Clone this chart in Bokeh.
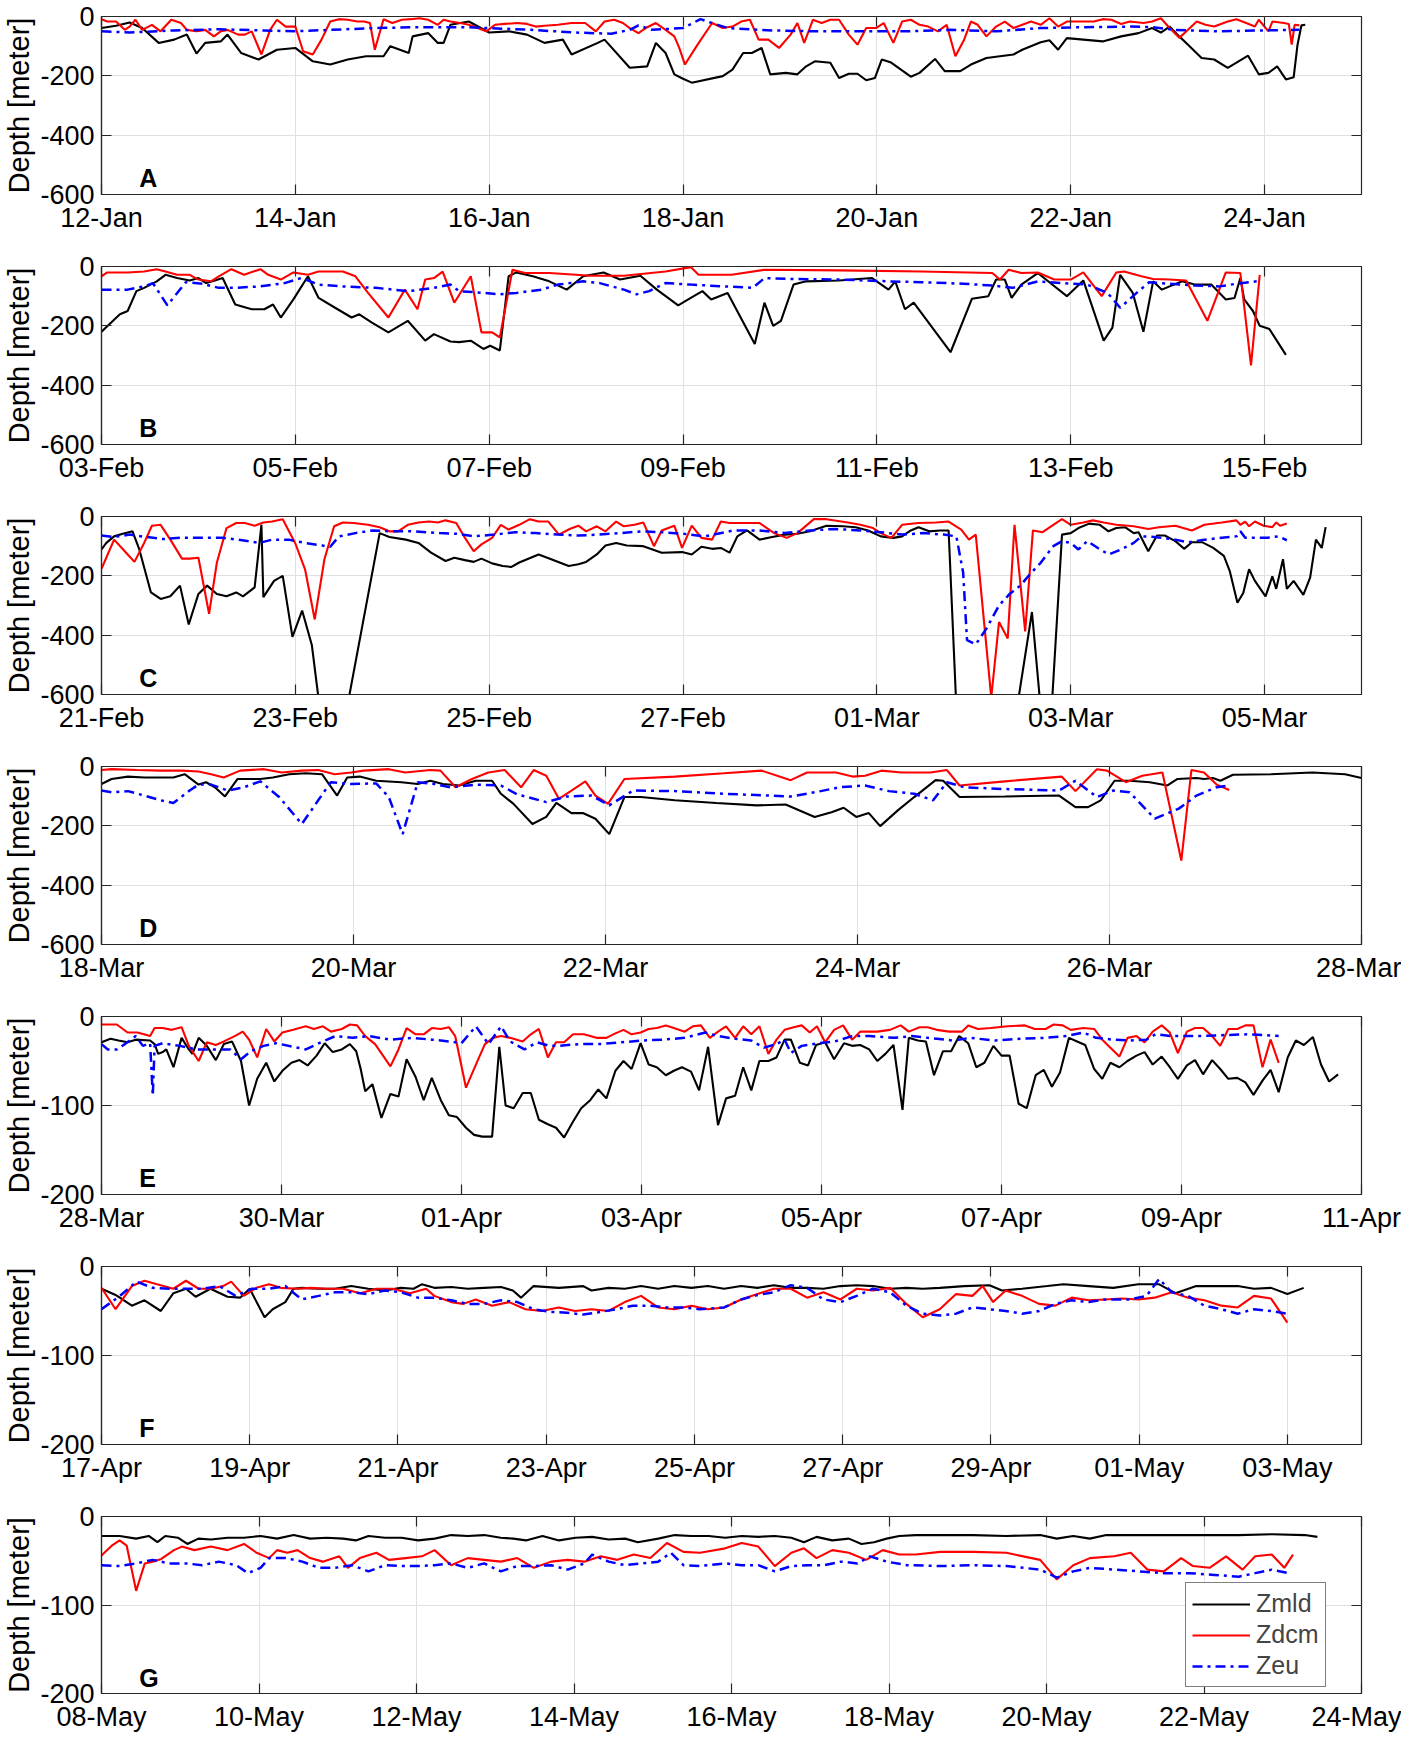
import numpy as np
import pandas as pd
from bokeh.plotting import figure
from bokeh.layouts import column
from bokeh.models import (Range1d, FixedTicker, DatetimeTickFormatter, Label, Legend, LegendItem,
                          DatetimeAxis, LinearAxis)
from bokeh.embed import file_html
from bokeh.resources import INLINE

# ---------------- panel meta ----------------
PANEL_LETTERS = ["A", "B", "C", "D", "E", "F", "G"]
PANEL_START = ["2019-01-12", "2019-02-03", "2019-02-21", "2019-03-18", "2019-03-28", "2019-04-17", "2019-05-08"]
PANEL_END = ["2019-01-25", "2019-02-16", "2019-03-06", "2019-03-28", "2019-04-11", "2019-05-04", "2019-05-24"]
PANEL_YMIN = [-600, -600, -600, -600, -200, -200, -200]
YTICKS_DEEP = [-600, -400, -200, 0]
YTICKS_SHALLOW = [-200, -100, 0]
SERIES_NAMES = ["Zmld", "Zdcm", "Zeu"]

# ---------------- data: (days since panel start, depth m) ----------------
A_ZMLD = [(0.00,-39),(0.15,-31),(0.29,-20),(0.42,-39),(0.59,-89),(0.75,-78),(0.88,-61),(0.98,-125),(1.07,-89),(1.23,-84),(1.30,-61),(1.44,-123),(1.62,-145),(1.81,-112),(2.00,-106),(2.18,-151),(2.36,-162),(2.54,-145),(2.73,-134),(2.91,-134),(2.98,-100),(3.17,-123),(3.21,-67),(3.37,-56),(3.47,-89),(3.53,-89),(3.60,-28),(3.79,-17),(4.00,-54),(4.20,-50),(4.39,-61),(4.57,-89),(4.76,-78),(4.85,-128),(5.12,-89),(5.19,-78),(5.45,-173),(5.63,-168),(5.72,-89),(5.82,-123),(5.91,-195),(6.00,-210),(6.09,-223),(6.41,-201),(6.51,-179),(6.62,-123),(6.71,-123),(6.81,-106),(6.90,-195),(7.06,-190),(7.18,-195),(7.27,-168),(7.36,-151),(7.52,-156),(7.61,-207),(7.71,-193),(7.80,-193),(7.89,-215),(7.98,-207),(8.05,-145),(8.14,-154),(8.35,-203),(8.44,-190),(8.60,-143),(8.70,-184),(8.86,-184),(8.97,-162),(9.13,-140),(9.41,-128),(9.50,-112),(9.69,-87),(9.78,-80),(9.87,-112),(9.96,-73),(10.33,-84),(10.52,-67),(10.70,-56),(10.84,-39),(10.93,-54),(11.02,-34),(11.12,-67),(11.21,-95),(11.35,-140),(11.48,-145),(11.62,-173),(11.83,-132),(11.94,-195),(12.04,-190),(12.13,-168),(12.22,-212),(12.30,-205),(12.34,-95),(12.38,-30),(12.42,-28)]
A_ZDCM = [(0.00,-9),(0.06,-17),(0.15,-17),(0.24,-45),(0.29,-34),(0.35,-11),(0.42,-45),(0.52,-28),(0.61,-50),(0.72,-11),(0.82,-22),(0.88,-45),(0.98,-50),(1.07,-45),(1.16,-67),(1.23,-50),(1.30,-45),(1.41,-61),(1.48,-61),(1.55,-50),(1.65,-128),(1.74,-45),(1.81,-11),(1.90,-34),(2.00,-34),(2.08,-117),(2.18,-128),(2.27,-78),(2.36,-17),(2.45,-9),(2.54,-11),(2.64,-17),(2.71,-17),(2.77,-22),(2.82,-112),(2.91,-9),(3.00,-22),(3.10,-11),(3.19,-9),(3.28,-6),(3.37,-11),(3.47,-28),(3.53,-11),(3.60,-17),(3.70,-22),(3.79,-28),(3.88,-39),(3.97,-50),(4.06,-28),(4.16,-25),(4.29,-22),(4.39,-25),(4.48,-34),(4.57,-31),(4.71,-28),(4.85,-22),(4.99,-22),(5.10,-50),(5.19,-17),(5.29,-11),(5.38,-22),(5.45,-39),(5.54,-56),(5.63,-36),(5.72,-22),(5.82,-45),(5.91,-67),(5.96,-105),(6.02,-162),(6.14,-100),(6.30,-22),(6.41,-39),(6.51,-34),(6.60,-17),(6.69,-11),(6.78,-78),(6.88,-78),(6.99,-106),(7.11,-61),(7.18,-22),(7.25,-89),(7.34,-11),(7.43,-22),(7.52,-11),(7.61,-11),(7.71,-61),(7.80,-95),(7.89,-39),(7.99,-39),(8.07,-22),(8.17,-89),(8.26,-17),(8.35,-11),(8.44,-28),(8.53,-34),(8.63,-50),(8.72,-28),(8.81,-134),(8.90,-78),(8.97,-17),(9.04,-28),(9.13,-67),(9.23,-34),(9.32,-17),(9.41,-39),(9.50,-28),(9.59,-17),(9.69,-28),(9.78,-6),(9.87,-34),(9.96,-17),(10.24,-17),(10.33,-9),(10.42,-11),(10.52,-25),(10.61,-17),(10.75,-22),(10.84,-17),(10.93,-6),(11.02,-39),(11.12,-72),(11.21,-45),(11.30,-17),(11.39,-28),(11.48,-34),(11.62,-17),(11.71,-9),(11.81,-22),(11.90,-34),(11.94,-11),(12.04,-50),(12.08,-17),(12.20,-22),(12.25,-25),(12.28,-95),(12.31,-28),(12.36,-30)]
A_ZEU = [(0.00,-50),(0.29,-54),(0.75,-47),(1.21,-43),(1.67,-47),(2.00,-50),(2.36,-45),(2.82,-39),(3.28,-36),(3.74,-36),(4.00,-39),(4.43,-45),(4.89,-54),(5.26,-58),(5.45,-45),(5.54,-30),(5.68,-45),(6.00,-39),(6.18,-9),(6.30,-22),(6.46,-39),(6.92,-47),(7.38,-50),(7.84,-50),(8.30,-50),(8.76,-45),(9.23,-50),(9.69,-39),(10.15,-36),(10.61,-34),(10.84,-36),(11.07,-45),(11.53,-50),(11.99,-47),(12.36,-45)]

B_ZMLD = [(0.00,-220),(0.10,-189),(0.19,-161),(0.27,-150),(0.36,-83),(0.44,-72),(0.57,-50),(0.66,-28),(0.78,-39),(0.91,-47),(1.00,-39),(1.08,-56),(1.17,-47),(1.25,-39),(1.38,-128),(1.55,-144),(1.68,-144),(1.77,-128),(1.85,-172),(1.98,-111),(2.13,-33),(2.24,-106),(2.41,-139),(2.58,-172),(2.66,-161),(2.79,-189),(2.96,-222),(3.16,-183),(3.34,-250),(3.43,-228),(3.60,-253),(3.69,-255),(3.81,-250),(3.94,-278),(4.01,-267),(4.11,-283),(4.20,-33),(4.28,-20),(4.45,-33),(4.62,-50),(4.80,-78),(4.97,-33),(5.18,-20),(5.35,-44),(5.56,-31),(5.73,-78),(5.95,-131),(6.08,-106),(6.20,-83),(6.29,-111),(6.46,-89),(6.74,-261),(6.84,-122),(6.93,-200),(7.01,-183),(7.14,-61),(7.27,-50),(7.61,-47),(7.95,-39),(8.12,-78),(8.19,-50),(8.29,-144),(8.38,-122),(8.76,-289),(8.98,-109),(9.15,-100),(9.23,-44),(9.32,-44),(9.39,-106),(9.49,-61),(9.66,-22),(9.96,-100),(10.13,-47),(10.34,-250),(10.43,-206),(10.51,-28),(10.64,-89),(10.75,-220),(10.85,-50),(10.94,-78),(11.02,-67),(11.15,-50),(11.28,-61),(11.45,-61),(11.60,-111),(11.69,-106),(11.75,-39),(11.79,-111),(11.88,-150),(11.95,-200),(12.05,-211),(12.22,-298)]
B_ZDCM = [(0.00,-33),(0.06,-20),(0.27,-20),(0.44,-17),(0.57,-9),(0.66,-17),(0.78,-28),(0.91,-28),(1.00,-44),(1.13,-50),(1.21,-33),(1.34,-9),(1.47,-28),(1.64,-9),(1.72,-28),(1.85,-44),(1.98,-20),(2.13,-28),(2.24,-17),(2.49,-17),(2.62,-33),(2.75,-89),(2.96,-172),(3.13,-78),(3.26,-144),(3.34,-44),(3.43,-39),(3.52,-17),(3.64,-122),(3.81,-33),(3.92,-222),(4.03,-222),(4.11,-239),(4.24,-11),(4.37,-22),(4.62,-22),(5.05,-31),(5.39,-31),(5.82,-17),(6.08,-2),(6.16,-28),(6.50,-28),(6.84,-11),(7.61,-13),(8.46,-17),(9.19,-22),(9.27,-44),(9.36,-11),(9.49,-22),(9.66,-20),(9.83,-44),(10.00,-44),(10.13,-20),(10.32,-100),(10.47,-20),(10.55,-17),(10.73,-33),(10.85,-42),(11.02,-44),(11.19,-47),(11.41,-183),(11.60,-20),(11.75,-22),(11.86,-333),(11.95,-28)]
B_ZEU = [(0.00,-78),(0.27,-78),(0.44,-67),(0.53,-56),(0.68,-131),(0.87,-53),(1.04,-58),(1.21,-72),(1.38,-72),(1.64,-67),(1.89,-56),(2.06,-39),(2.24,-61),(2.49,-67),(2.83,-72),(3.17,-83),(3.43,-72),(3.60,-61),(3.69,-83),(3.94,-89),(4.11,-94),(4.28,-89),(4.54,-78),(4.71,-61),(4.97,-50),(5.14,-56),(5.39,-78),(5.52,-94),(5.65,-83),(5.82,-56),(6.08,-61),(6.42,-67),(6.72,-72),(6.84,-39),(7.10,-42),(7.61,-44),(8.12,-50),(8.46,-53),(8.89,-58),(9.19,-64),(9.40,-72),(9.66,-50),(9.91,-56),(10.17,-61),(10.38,-89),(10.51,-139),(10.68,-89),(10.81,-53),(11.02,-58),(11.28,-64),(11.54,-67),(11.71,-58),(11.92,-50)]

C_ZMLD = [(0.00,-111),(0.05,-89),(0.13,-67),(0.22,-58),(0.32,-50),(0.39,-111),(0.51,-256),(0.61,-278),(0.71,-269),(0.81,-233),(0.90,-364),(1.00,-261),(1.09,-233),(1.19,-261),(1.29,-269),(1.39,-256),(1.46,-269),(1.58,-239),(1.65,-28),(1.67,-272),(1.78,-217),(1.87,-200),(1.97,-406),(2.07,-317),(2.17,-433),(2.28,-720),(2.49,-720),(2.87,-56),(2.97,-69),(3.14,-78),(3.27,-89),(3.40,-122),(3.55,-150),(3.64,-139),(3.75,-147),(3.84,-153),(3.92,-142),(4.03,-158),(4.14,-167),(4.23,-170),(4.31,-155),(4.51,-128),(4.64,-144),(4.82,-167),(4.92,-161),(5.00,-153),(5.11,-128),(5.20,-98),(5.31,-89),(5.42,-98),(5.59,-100),(5.78,-122),(5.99,-120),(6.09,-128),(6.19,-102),(6.30,-109),(6.39,-106),(6.48,-122),(6.56,-67),(6.66,-47),(6.79,-78),(6.92,-69),(7.05,-61),(7.18,-58),(7.31,-50),(7.48,-31),(7.65,-33),(7.78,-36),(7.91,-47),(8.04,-67),(8.17,-72),(8.26,-67),(8.35,-47),(8.43,-36),(8.54,-50),(8.65,-47),(8.74,-47),(8.83,-720),(9.41,-720),(9.60,-322),(9.71,-720),(9.79,-720),(9.91,-61),(10.00,-56),(10.08,-39),(10.19,-24),(10.30,-28),(10.39,-50),(10.47,-39),(10.56,-36),(10.65,-56),(10.70,-53),(10.80,-117),(10.89,-64),(10.97,-64),(11.08,-83),(11.17,-109),(11.25,-87),(11.36,-87),(11.47,-106),(11.58,-133),(11.64,-183),(11.72,-291),(11.78,-258),(11.84,-178),(11.90,-217),(12.01,-269),(12.08,-202),(12.12,-244),(12.19,-144),(12.23,-244),(12.30,-217),(12.40,-264),(12.47,-206),(12.53,-78),(12.59,-106),(12.63,-36)]
C_ZDCM = [(0.00,-176),(0.13,-78),(0.24,-117),(0.34,-153),(0.44,-89),(0.52,-31),(0.61,-28),(0.72,-83),(0.83,-142),(0.91,-142),(1.00,-139),(1.11,-328),(1.19,-156),(1.29,-39),(1.39,-22),(1.48,-22),(1.58,-31),(1.67,-20),(1.76,-17),(1.87,-9),(2.00,-91),(2.10,-178),(2.20,-347),(2.30,-144),(2.40,-33),(2.49,-20),(2.60,-22),(2.75,-28),(2.87,-36),(2.97,-50),(3.06,-50),(3.16,-28),(3.27,-20),(3.38,-17),(3.47,-20),(3.55,-13),(3.66,-22),(3.75,-72),(3.84,-117),(3.92,-94),(4.03,-72),(4.12,-28),(4.20,-44),(4.31,-28),(4.42,-9),(4.51,-17),(4.61,-17),(4.72,-61),(4.83,-42),(4.92,-31),(5.00,-50),(5.11,-33),(5.20,-50),(5.31,-17),(5.39,-33),(5.50,-28),(5.59,-20),(5.70,-100),(5.78,-47),(5.91,-31),(5.99,-106),(6.09,-31),(6.19,-72),(6.30,-78),(6.39,-17),(6.48,-22),(6.79,-22),(6.94,-56),(7.07,-72),(7.18,-56),(7.35,-9),(7.48,-9),(7.70,-20),(7.83,-28),(7.96,-39),(8.04,-56),(8.15,-72),(8.26,-28),(8.43,-22),(8.61,-20),(8.74,-17),(8.87,-44),(8.95,-78),(9.02,-61),(9.18,-610),(9.26,-356),(9.35,-411),(9.42,-28),(9.53,-387),(9.61,-47),(9.71,-53),(9.82,-28),(9.91,-9),(10.00,-28),(10.13,-20),(10.23,-13),(10.34,-20),(10.47,-28),(10.65,-33),(10.80,-42),(10.91,-36),(11.08,-31),(11.25,-47),(11.38,-28),(11.56,-20),(11.71,-13),(11.75,-28),(11.80,-17),(11.84,-33),(11.90,-17),(11.99,-31),(12.08,-36),(12.12,-20),(12.16,-31),(12.23,-24)]
C_ZEU = [(0.00,-64),(0.13,-69),(0.29,-61),(0.46,-69),(0.63,-76),(0.81,-72),(1.02,-72),(1.24,-72),(1.41,-78),(1.63,-89),(1.76,-78),(1.93,-78),(2.10,-89),(2.28,-98),(2.36,-102),(2.45,-67),(2.62,-56),(2.80,-47),(2.97,-50),(3.23,-50),(3.49,-56),(3.66,-58),(3.84,-67),(4.05,-61),(4.27,-53),(4.48,-56),(4.70,-61),(4.92,-64),(5.13,-61),(5.35,-56),(5.57,-50),(5.78,-53),(6.00,-58),(6.22,-67),(6.43,-53),(6.52,-47),(6.79,-47),(7.05,-56),(7.31,-47),(7.57,-42),(7.83,-47),(8.04,-53),(8.26,-61),(8.48,-56),(8.69,-61),(8.82,-67),(8.89,-189),(8.93,-417),(9.02,-431),(9.13,-378),(9.26,-300),(9.37,-261),(9.48,-233),(9.58,-194),(9.69,-156),(9.82,-100),(9.91,-83),(10.00,-89),(10.08,-111),(10.17,-83),(10.28,-106),(10.39,-128),(10.52,-111),(10.65,-89),(10.73,-67),(10.86,-69),(11.08,-78),(11.21,-87),(11.38,-78),(11.56,-72),(11.71,-67),(11.75,-50),(11.80,-72),(11.90,-72),(12.03,-72),(12.14,-67),(12.23,-80)]

D_ZMLD = [(0.00,-59),(0.08,-42),(0.21,-34),(0.34,-37),(0.47,-37),(0.57,-37),(0.66,-26),(0.77,-61),(0.83,-53),(0.90,-70),(0.98,-101),(1.08,-42),(1.26,-42),(1.36,-37),(1.49,-26),(1.62,-23),(1.75,-26),(1.87,-98),(1.95,-37),(2.05,-34),(2.18,-48),(2.38,-53),(2.51,-59),(2.61,-48),(2.71,-59),(2.84,-64),(2.97,-48),(3.10,-48),(3.17,-92),(3.27,-126),(3.42,-194),(3.53,-170),(3.61,-123),(3.73,-157),(3.82,-157),(3.92,-176),(4.03,-228),(4.15,-103),(4.28,-103),(4.55,-114),(4.88,-123),(5.20,-131),(5.43,-128),(5.66,-170),(5.80,-153),(5.89,-139),(5.99,-170),(6.09,-157),(6.18,-201),(6.32,-148),(6.45,-103),(6.62,-46),(6.68,-48),(6.81,-103),(7.17,-101),(7.60,-98),(7.73,-137),(7.83,-137),(7.93,-114),(8.04,-48),(8.16,-48),(8.32,-53),(8.46,-64),(8.54,-42),(8.69,-39),(8.75,-42),(8.82,-39),(8.88,-48),(8.98,-28),(9.28,-26),(9.61,-20),(9.87,-26),(10.00,-39)]
D_ZDCM = [(0.00,-12),(0.08,-9),(0.28,-12),(0.47,-14),(0.64,-14),(0.77,-17),(0.87,-26),(0.97,-37),(1.10,-14),(1.29,-9),(1.43,-20),(1.59,-14),(1.72,-12),(1.85,-26),(1.98,-20),(2.08,-14),(2.28,-9),(2.41,-20),(2.61,-12),(2.69,-14),(2.81,-70),(2.94,-42),(3.07,-20),(3.20,-12),(3.33,-70),(3.43,-12),(3.53,-31),(3.63,-109),(3.73,-81),(3.84,-50),(3.92,-98),(4.02,-126),(4.15,-42),(4.55,-34),(4.94,-23),(5.24,-14),(5.47,-46),(5.60,-20),(5.83,-20),(5.96,-34),(6.06,-31),(6.19,-14),(6.35,-20),(6.58,-20),(6.71,-12),(6.81,-64),(7.17,-50),(7.62,-34),(7.73,-83),(7.90,-9),(7.98,-14),(8.13,-53),(8.26,-31),(8.42,-20),(8.57,-317),(8.65,-12),(8.75,-20),(8.85,-61),(8.95,-79)]
D_ZEU = [(0.00,-81),(0.08,-87),(0.21,-83),(0.34,-98),(0.47,-114),(0.57,-123),(0.70,-81),(0.77,-61),(0.87,-61),(1.00,-81),(1.13,-70),(1.26,-50),(1.41,-103),(1.59,-194),(1.72,-114),(1.82,-53),(1.98,-59),(2.18,-57),(2.28,-103),(2.39,-228),(2.51,-53),(2.64,-59),(2.77,-70),(2.97,-61),(3.17,-64),(3.30,-94),(3.53,-120),(3.69,-101),(3.89,-98),(4.03,-131),(4.22,-81),(4.55,-83),(4.94,-92),(5.47,-101),(5.66,-87),(5.86,-70),(6.06,-64),(6.25,-83),(6.45,-92),(6.60,-114),(6.71,-53),(6.85,-70),(7.17,-76),(7.60,-81),(7.73,-48),(7.90,-103),(8.03,-81),(8.16,-87),(8.36,-176),(8.55,-142),(8.69,-98),(8.85,-70),(8.95,-64)]

E_ZMLD = [(0.00,-29),(0.10,-25),(0.19,-27),(0.29,-29),(0.38,-26),(0.54,-27),(0.59,-31),(0.63,-42),(0.68,-40),(0.72,-37),(0.80,-57),(0.89,-24),(0.97,-37),(1.01,-42),(1.08,-24),(1.17,-33),(1.27,-49),(1.36,-31),(1.45,-28),(1.55,-50),(1.64,-100),(1.73,-70),(1.83,-52),(1.92,-73),(2.01,-61),(2.11,-52),(2.20,-49),(2.29,-55),(2.39,-44),(2.48,-30),(2.57,-40),(2.67,-37),(2.76,-31),(2.83,-39),(2.88,-59),(2.93,-84),(3.01,-76),(3.11,-114),(3.21,-87),(3.30,-90),(3.39,-48),(3.49,-68),(3.58,-94),(3.67,-69),(3.77,-94),(3.86,-111),(3.95,-113),(4.05,-125),(4.14,-133),(4.23,-135),(4.34,-135),(4.42,-34),(4.49,-100),(4.58,-103),(4.68,-86),(4.77,-86),(4.86,-116),(4.96,-121),(5.05,-125),(5.14,-136),(5.24,-118),(5.33,-103),(5.43,-94),(5.52,-82),(5.61,-92),(5.71,-61),(5.80,-50),(5.89,-59),(5.99,-30),(6.08,-54),(6.17,-57),(6.27,-66),(6.36,-61),(6.45,-57),(6.55,-62),(6.64,-83),(6.74,-34),(6.85,-122),(6.94,-92),(7.04,-89),(7.13,-57),(7.22,-83),(7.31,-50),(7.41,-50),(7.50,-46),(7.59,-26),(7.66,-26),(7.76,-52),(7.85,-55),(7.94,-32),(8.04,-29),(8.14,-48),(8.25,-30),(8.34,-33),(8.43,-32),(8.53,-37),(8.62,-50),(8.71,-42),(8.80,-32),(8.90,-105),(8.97,-24),(9.07,-27),(9.16,-28),(9.25,-66),(9.35,-39),(9.44,-39),(9.53,-22),(9.63,-30),(9.72,-57),(9.81,-52),(9.91,-33),(10.00,-44),(10.09,-44),(10.19,-98),(10.28,-103),(10.38,-66),(10.47,-60),(10.56,-79),(10.65,-63),(10.75,-24),(10.84,-28),(10.93,-32),(11.03,-59),(11.12,-70),(11.21,-52),(11.31,-57),(11.40,-50),(11.50,-44),(11.59,-40),(11.68,-54),(11.78,-45),(11.87,-57),(11.96,-70),(12.06,-55),(12.15,-49),(12.24,-65),(12.34,-49),(12.43,-59),(12.52,-70),(12.62,-69),(12.71,-74),(12.80,-88),(12.90,-72),(12.99,-60),(13.08,-85),(13.18,-46),(13.27,-27),(13.36,-32),(13.46,-23),(13.55,-54),(13.64,-73),(13.74,-65)]
E_ZDCM = [(0.00,-9),(0.17,-9),(0.29,-18),(0.40,-18),(0.54,-22),(0.59,-13),(0.68,-13),(0.78,-15),(0.89,-12),(0.97,-33),(1.08,-50),(1.17,-29),(1.27,-32),(1.36,-28),(1.48,-22),(1.57,-17),(1.64,-26),(1.73,-46),(1.83,-14),(1.92,-28),(2.01,-18),(2.13,-15),(2.27,-11),(2.36,-14),(2.46,-11),(2.55,-17),(2.67,-14),(2.76,-9),(2.84,-10),(2.93,-22),(3.04,-31),(3.21,-56),(3.30,-37),(3.39,-13),(3.49,-20),(3.58,-20),(3.67,-13),(3.77,-14),(3.86,-12),(3.93,-22),(4.05,-80),(4.16,-54),(4.26,-31),(4.35,-24),(4.44,-22),(4.54,-24),(4.68,-28),(4.77,-20),(4.86,-14),(4.96,-46),(5.05,-29),(5.14,-29),(5.24,-20),(5.36,-20),(5.50,-24),(5.61,-24),(5.71,-19),(5.80,-15),(5.89,-20),(5.99,-18),(6.08,-14),(6.17,-13),(6.27,-10),(6.36,-13),(6.48,-17),(6.57,-11),(6.66,-10),(6.76,-24),(6.85,-17),(6.94,-11),(7.04,-24),(7.13,-11),(7.22,-20),(7.31,-11),(7.41,-42),(7.50,-26),(7.59,-15),(7.69,-12),(7.78,-10),(7.87,-18),(7.95,-11),(8.04,-29),(8.14,-15),(8.24,-10),(8.34,-26),(8.43,-17),(8.62,-17),(8.76,-15),(8.88,-10),(8.97,-17),(9.09,-12),(9.18,-12),(9.28,-15),(9.42,-17),(9.56,-17),(9.63,-10),(9.74,-14),(9.88,-13),(10.07,-11),(10.26,-10),(10.37,-14),(10.49,-14),(10.58,-9),(10.68,-10),(10.77,-15),(10.91,-13),(11.03,-14),(11.12,-26),(11.21,-35),(11.31,-45),(11.40,-24),(11.50,-22),(11.59,-29),(11.68,-17),(11.78,-10),(11.87,-18),(11.96,-41),(12.06,-17),(12.15,-13),(12.24,-13),(12.34,-22),(12.43,-33),(12.52,-14),(12.62,-14),(12.71,-10),(12.80,-10),(12.90,-57),(12.99,-26),(13.08,-52)]
E_ZEU = [(0.00,-31),(0.07,-37),(0.17,-37),(0.26,-31),(0.38,-22),(0.46,-33),(0.54,-30),(0.57,-89),(0.59,-33),(0.68,-30),(0.87,-33),(1.06,-37),(1.24,-37),(1.43,-37),(1.55,-48),(1.66,-39),(1.80,-33),(1.94,-30),(2.13,-34),(2.27,-37),(2.46,-28),(2.60,-22),(2.79,-24),(2.97,-22),(3.21,-26),(3.44,-24),(3.67,-26),(3.86,-28),(4.00,-30),(4.16,-11),(4.30,-31),(4.44,-11),(4.54,-28),(4.70,-37),(4.84,-29),(4.98,-33),(5.07,-33),(5.31,-31),(5.54,-31),(5.78,-29),(6.01,-27),(6.24,-26),(6.48,-24),(6.71,-18),(6.85,-22),(7.04,-25),(7.22,-27),(7.36,-35),(7.50,-31),(7.59,-26),(7.66,-41),(7.78,-33),(7.97,-30),(8.15,-28),(8.34,-22),(8.53,-22),(8.81,-24),(9.00,-22),(9.28,-25),(9.46,-27),(9.65,-24),(9.93,-27),(10.21,-25),(10.49,-24),(10.72,-22),(10.91,-18),(11.05,-24),(11.24,-26),(11.43,-27),(11.61,-26),(11.71,-20),(11.89,-22),(12.17,-22),(12.45,-21),(12.73,-20),(12.92,-21),(13.08,-22)]

F_ZMLD = [(0.00,-25),(0.19,-32),(0.41,-44),(0.58,-38),(0.80,-50),(0.97,-30),(1.14,-25),(1.27,-34),(1.47,-25),(1.70,-34),(1.87,-35),(2.00,-25),(2.20,-57),(2.31,-48),(2.48,-40),(2.59,-25),(2.70,-24),(2.93,-25),(3.15,-25),(3.37,-22),(3.60,-25),(3.82,-27),(4.04,-24),(4.21,-25),(4.32,-20),(4.49,-24),(4.72,-23),(4.94,-25),(5.16,-24),(5.39,-23),(5.55,-27),(5.66,-35),(5.83,-22),(6.17,-24),(6.50,-22),(6.61,-27),(6.84,-24),(7.06,-25),(7.28,-22),(7.51,-25),(7.73,-22),(7.96,-24),(8.18,-22),(8.40,-25),(8.63,-22),(8.85,-24),(9.07,-21),(9.30,-24),(9.52,-24),(9.74,-25),(9.97,-22),(10.19,-21),(10.41,-22),(10.64,-25),(10.86,-24),(11.08,-25),(11.31,-24),(11.64,-22),(11.98,-21),(12.15,-27),(12.42,-25),(12.76,-22),(12.98,-20),(13.32,-22),(13.65,-24),(13.99,-20),(14.27,-20),(14.49,-30),(14.77,-22),(14.99,-22),(15.33,-22),(15.55,-25),(15.78,-24),(16.00,-31),(16.22,-24)]
F_ZDCM = [(0.00,-24),(0.19,-48),(0.41,-22),(0.58,-16),(0.75,-20),(0.97,-25),(1.14,-16),(1.31,-25),(1.47,-25),(1.64,-22),(1.75,-17),(1.92,-33),(2.09,-24),(2.26,-20),(2.42,-24),(2.65,-25),(2.82,-24),(3.04,-25),(3.26,-25),(3.49,-30),(3.71,-25),(3.93,-25),(4.16,-30),(4.38,-25),(4.49,-33),(4.72,-40),(4.88,-42),(5.05,-37),(5.27,-44),(5.50,-40),(5.72,-48),(5.94,-50),(6.17,-46),(6.39,-50),(6.61,-48),(6.84,-50),(7.06,-40),(7.28,-33),(7.51,-46),(7.73,-48),(7.96,-44),(8.18,-48),(8.40,-46),(8.63,-37),(8.85,-31),(9.07,-25),(9.30,-25),(9.52,-35),(9.74,-29),(9.97,-37),(10.19,-25),(10.41,-27),(10.64,-24),(10.86,-42),(11.08,-57),(11.31,-48),(11.53,-31),(11.75,-33),(11.89,-22),(12.03,-40),(12.20,-27),(12.42,-33),(12.65,-42),(12.87,-44),(13.09,-35),(13.32,-38),(13.54,-37),(13.77,-36),(13.99,-37),(14.21,-35),(14.44,-29),(14.66,-35),(14.88,-38),(15.11,-44),(15.33,-46),(15.55,-33),(15.78,-36),(16.00,-63)]
F_ZEU = [(0.00,-48),(0.25,-33),(0.47,-17),(0.69,-24),(0.92,-25),(1.36,-25),(1.59,-22),(1.81,-33),(2.03,-25),(2.26,-25),(2.48,-22),(2.70,-37),(2.93,-33),(3.15,-29),(3.37,-29),(3.60,-31),(3.82,-27),(4.04,-29),(4.27,-35),(4.49,-35),(4.72,-38),(4.94,-42),(5.16,-42),(5.39,-38),(5.61,-40),(5.83,-48),(6.06,-51),(6.28,-52),(6.50,-54),(6.73,-51),(6.95,-48),(7.17,-44),(7.40,-44),(7.62,-46),(7.84,-46),(8.07,-48),(8.40,-46),(8.63,-37),(8.85,-32),(9.07,-29),(9.30,-21),(9.52,-24),(9.74,-37),(9.97,-40),(10.19,-33),(10.41,-25),(10.64,-29),(10.86,-44),(11.08,-53),(11.31,-55),(11.53,-53),(11.75,-46),(11.98,-48),(12.20,-50),(12.42,-53),(12.65,-50),(12.87,-42),(13.09,-38),(13.32,-40),(13.54,-37),(13.88,-37),(14.10,-33),(14.27,-14),(14.44,-29),(14.66,-33),(14.88,-44),(15.11,-48),(15.33,-53),(15.55,-48),(15.78,-50),(16.00,-53)]

G_ZMLD = [(0.00,-22),(0.23,-22),(0.44,-25),(0.60,-22),(0.71,-29),(0.81,-22),(0.97,-24),(1.09,-31),(1.23,-25),(1.39,-26),(1.60,-24),(1.81,-24),(2.02,-22),(2.23,-25),(2.44,-21),(2.65,-25),(2.86,-24),(3.07,-25),(3.23,-27),(3.39,-22),(3.60,-24),(3.81,-24),(4.02,-27),(4.23,-25),(4.44,-21),(4.65,-22),(4.86,-21),(5.07,-24),(5.23,-25),(5.39,-27),(5.60,-22),(5.81,-27),(6.02,-24),(6.23,-23),(6.44,-26),(6.65,-25),(6.81,-29),(7.07,-25),(7.28,-21),(7.49,-22),(7.71,-22),(7.92,-24),(8.13,-22),(8.34,-23),(8.55,-22),(8.76,-24),(8.92,-29),(9.08,-23),(9.28,-27),(9.49,-25),(9.65,-31),(9.81,-29),(9.97,-25),(10.13,-22),(10.34,-21),(11.07,-21),(11.49,-22),(11.92,-21),(12.13,-25),(12.34,-22),(12.55,-25),(12.76,-21),(13.60,-21),(14.44,-21),(14.86,-20),(15.28,-21),(15.44,-23)]
G_ZDCM = [(0.00,-44),(0.13,-33),(0.23,-27),(0.32,-33),(0.44,-84),(0.55,-53),(0.65,-51),(0.76,-48),(0.92,-38),(1.02,-34),(1.18,-38),(1.39,-34),(1.60,-38),(1.81,-31),(1.97,-41),(2.13,-47),(2.23,-38),(2.36,-41),(2.49,-38),(2.65,-47),(2.81,-51),(3.02,-45),(3.13,-58),(3.28,-47),(3.49,-41),(3.65,-49),(3.86,-47),(4.07,-45),(4.23,-38),(4.44,-55),(4.65,-47),(4.86,-49),(5.07,-51),(5.28,-47),(5.49,-58),(5.71,-51),(5.92,-49),(6.13,-51),(6.34,-45),(6.55,-49),(6.76,-43),(6.97,-47),(7.18,-30),(7.39,-40),(7.60,-41),(7.92,-36),(8.13,-30),(8.34,-34),(8.55,-56),(8.76,-41),(8.92,-36),(9.08,-47),(9.28,-38),(9.49,-41),(9.71,-49),(9.92,-38),(10.13,-43),(10.34,-43),(10.65,-40),(11.07,-40),(11.49,-41),(11.92,-49),(12.13,-71),(12.34,-55),(12.55,-47),(12.86,-45),(13.07,-41),(13.28,-60),(13.49,-62),(13.71,-47),(13.86,-56),(14.07,-58),(14.28,-45),(14.49,-60),(14.65,-45),(14.86,-43),(15.02,-58),(15.13,-43)]
G_ZEU = [(0.00,-55),(0.23,-56),(0.44,-53),(0.65,-49),(0.86,-53),(1.07,-53),(1.28,-55),(1.49,-51),(1.71,-55),(1.86,-64),(2.02,-58),(2.13,-47),(2.34,-47),(2.55,-51),(2.76,-58),(2.97,-58),(3.18,-55),(3.39,-62),(3.60,-55),(3.81,-56),(4.02,-56),(4.23,-55),(4.44,-53),(4.65,-58),(4.86,-53),(5.07,-62),(5.28,-56),(5.49,-56),(5.71,-55),(5.92,-60),(6.13,-53),(6.23,-43),(6.44,-51),(6.65,-55),(6.86,-53),(7.07,-51),(7.23,-41),(7.39,-55),(7.60,-56),(7.92,-53),(8.13,-55),(8.34,-55),(8.55,-62),(8.76,-56),(8.97,-55),(9.18,-55),(9.39,-51),(9.60,-53),(9.76,-45),(9.97,-51),(10.23,-55),(10.65,-56),(11.07,-55),(11.49,-56),(11.92,-60),(12.13,-69),(12.34,-62),(12.55,-58),(12.86,-60),(13.18,-62),(13.49,-64),(13.81,-64),(14.13,-66),(14.44,-68),(14.65,-64),(14.86,-60),(15.07,-64)]

PANEL_SERIES = [
    (A_ZMLD, A_ZDCM, A_ZEU), (B_ZMLD, B_ZDCM, B_ZEU), (C_ZMLD, C_ZDCM, C_ZEU),
    (D_ZMLD, D_ZDCM, D_ZEU), (E_ZMLD, E_ZDCM, E_ZEU), (F_ZMLD, F_ZDCM, F_ZEU),
    (G_ZMLD, G_ZDCM, G_ZEU),
]

# ---------------- styling ----------------
DAY = 86400000.0
FONT = "Liberation Sans"
TICK_PX = "27px"
FIG_W = 1401
BORDER_L = 98
BORDER_R = 40
BORDER_T = 16
FRAME_H = 178
FIG_H = [250, 250, 250, 250, 250, 250, 234]
COLORS = ["#000000", "#ff0000", "#0000ff"]
WIDTHS = [2.1, 2.1, 2.5]
DASHES = ["solid", "solid", "10 5 3 5"]
FMT = "%d-%b"
AX_COLOR = "#262626"


def to_ms(s):
    return pd.Timestamp(s).value / 1e6


def date_formatter():
    return DatetimeTickFormatter(
        milliseconds=FMT, seconds=FMT, minsec=FMT, minutes=FMT, hourmin=FMT,
        hours=FMT, days=FMT, months=FMT, years=FMT)


def style_box_axis(ax):
    # tick-only axis for the top / right side of the box
    ax.axis_line_color = None
    ax.major_tick_line_color = AX_COLOR
    ax.major_tick_line_width = 1.2
    ax.major_tick_in = 10
    ax.major_tick_out = 0
    ax.minor_tick_line_color = None
    ax.major_label_text_font_size = "1px"
    ax.major_label_text_color = None
    ax.major_label_standoff = 0
    ax.axis_label = None


figs = []
for i, letter in enumerate(PANEL_LETTERS):
    s_ms = to_ms(PANEL_START[i])
    e_ms = to_ms(PANEL_END[i])
    span = (e_ms - s_ms) / DAY
    ymin = PANEL_YMIN[i]
    yt = YTICKS_DEEP if ymin == -600 else YTICKS_SHALLOW
    h = FIG_H[i]
    p = figure(width=FIG_W, height=h, x_axis_type="datetime",
               x_range=Range1d(s_ms, e_ms), y_range=Range1d(ymin, 0),
               output_backend="svg", toolbar_location=None,
               min_border_left=BORDER_L, min_border_right=BORDER_R,
               min_border_top=BORDER_T, min_border_bottom=h - BORDER_T - FRAME_H)
    p.background_fill_color = "white"
    p.border_fill_color = "white"
    p.outline_line_color = AX_COLOR
    p.outline_line_width = 1.2
    p.outline_line_alpha = 1.0

    ticks = [s_ms + k * 2 * DAY for k in range(int(span // 2) + 1)]
    xt = FixedTicker(ticks=ticks)
    p.xaxis[0].ticker = xt
    p.xgrid[0].ticker = xt
    p.xaxis[0].formatter = date_formatter()
    ytk = FixedTicker(ticks=yt)
    p.yaxis[0].ticker = ytk
    p.ygrid[0].ticker = ytk
    p.yaxis[0].major_label_overrides = {v: ("%d" % v) for v in yt}

    for ax in (p.xaxis[0], p.yaxis[0]):
        ax.axis_line_color = AX_COLOR
        ax.axis_line_width = 1.2
        ax.major_tick_line_color = AX_COLOR
        ax.major_tick_line_width = 1.2
        ax.major_tick_in = 10
        ax.major_tick_out = 0
        ax.minor_tick_line_color = None
        ax.major_label_text_font = FONT
        ax.major_label_text_font_size = TICK_PX
        ax.major_label_text_color = "#000000"
    p.xaxis[0].major_label_standoff = 8
    p.yaxis[0].major_label_standoff = 7
    p.yaxis[0].axis_label = "Depth [meter]"
    p.yaxis[0].axis_label_text_font = FONT
    p.yaxis[0].axis_label_text_font_size = "29px"
    p.yaxis[0].axis_label_text_font_style = "normal"
    p.yaxis[0].axis_label_text_color = "#000000"
    p.yaxis[0].axis_label_standoff = 2

    top_ax = DatetimeAxis(ticker=xt, formatter=date_formatter())
    style_box_axis(top_ax)
    p.add_layout(top_ax, "above")
    right_ax = LinearAxis(ticker=ytk)
    style_box_axis(right_ax)
    p.add_layout(right_ax, "right")

    for g in (p.xgrid[0], p.ygrid[0]):
        g.grid_line_color = "#e0e0e0"
        g.grid_line_width = 1

    renderers = []
    for j, ser in enumerate(PANEL_SERIES[i]):
        t = np.array([a for a, b in ser], dtype=float)
        z = np.array([b for a, b in ser], dtype=float)
        r = p.line(s_ms + t * DAY, z, line_color=COLORS[j], line_width=WIDTHS[j],
                   line_dash=DASHES[j])
        renderers.append(r)

    p.add_layout(Label(x=s_ms + 0.030 * span * DAY, y=ymin * 0.91, text=letter,
                       text_font=FONT, text_font_size="25px", text_font_style="bold",
                       text_color="#000000", text_align="left", text_baseline="alphabetic"))

    if letter == "G":
        leg = Legend(items=[LegendItem(label=SERIES_NAMES[j], renderers=[renderers[j]]) for j in range(3)],
                     location=(1084, 6))
        leg.label_text_font = FONT
        leg.label_text_font_size = "25px"
        leg.glyph_width = 58
        leg.glyph_height = 28
        leg.label_standoff = 6
        leg.label_height = 28
        leg.spacing = 2
        leg.padding = 6
        leg.margin = 0
        leg.border_line_color = "#000000"
        leg.border_line_width = 1.2
        leg.background_fill_color = "white"
        leg.background_fill_alpha = 1.0
        p.add_layout(leg)

    figs.append(p)

layout = column(*figs, spacing=0)
open("out.html", "w").write(file_html(layout, INLINE))
